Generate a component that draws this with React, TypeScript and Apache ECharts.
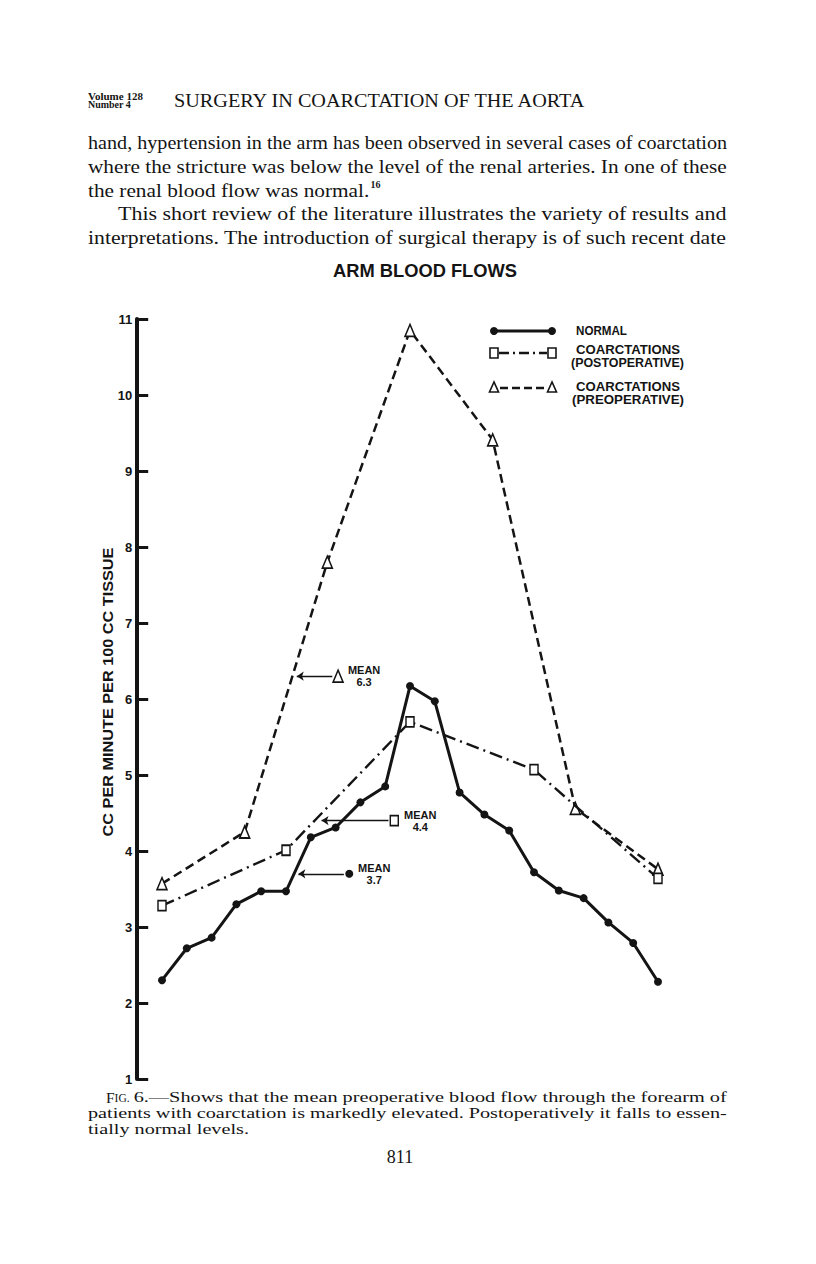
import React, { useEffect, useRef } from "react";
import * as echarts from "echarts";

const INK = "#141414";
const SANS = "Liberation Sans";
const SERIF = "Liberation Serif";

// ---- data (x = position of the reading along the forearm record, hidden axis) ----
const normalX = [0, 3, 6, 9, 12, 15, 18, 21, 24, 27, 30, 33, 36, 39, 42, 45, 48, 51, 54, 57, 60];
const normalValues = [2.3, 2.72, 2.86, 3.3, 3.47, 3.47, 4.18, 4.31, 4.64, 4.85, 6.17, 5.97, 4.77, 4.48, 4.27, 3.72, 3.48, 3.38, 3.06, 2.79, 2.28];
const postX = [0, 15, 30, 45, 60];
const postValues = [3.28, 4.01, 5.7, 5.07, 3.64];
const preX = [0, 10, 20, 30, 40, 50, 60];
const preValues = [3.57, 4.25, 7.8, 10.85, 9.41, 4.56, 3.76];

const yMin = 1;
const yMax = 11;

const seriesNames = ["NORMAL", "COARCTATIONS (POSTOPERATIVE)", "COARCTATIONS (PREOPERATIVE)"];
const meanValues = [3.7, 4.4, 6.3];
const meanMarkerX = [22.65, 28.1, 21.3];
const meanArrowFrom = [22.0, 27.4, 20.6];
const meanArrowTo = [16.5, 19.3, 16.3];

const title = "ARM BLOOD FLOWS";
const yAxisTitle = "CC PER MINUTE PER 100 CC TISSUE";
const headerVol = ["Volume 128", "Number 4"];
const headerTitle = "SURGERY IN COARCTATION OF THE AORTA";
const bodyLines = [
  "hand, hypertension in the arm has been observed in several cases of coarctation",
  "where the stricture was below the level of the renal arteries. In one of these",
  "the renal blood flow was normal.",
  "This short review of the literature illustrates the variety of results and",
  "interpretations. The introduction of surgical therapy is of such recent date",
];
const captionLines = [
  "6.—Shows that the mean preoperative blood flow through the forearm of",
  "patients with coarctation is markedly elevated. Postoperatively it falls to essen-",
  "tially normal levels.",
];
const pageNumber = "811";

export default function App() {
  const ref = useRef<HTMLDivElement>(null);

  useEffect(() => {
    if (!ref.current) return;
    const chart = echarts.init(ref.current, undefined, { renderer: "svg" });

    const cv = document.createElement("canvas").getContext("2d")!;
    const measure = (t: string, size: number, family: string, weight = "normal") => {
      cv.font = `${weight} ${size}px "${family}"`;
      return cv.measureText(t).width;
    };
    const txt = (
      t: string,
      x: number,
      y: number,
      size: number,
      family: string,
      weight = "normal",
      width?: number,
      align = "left",
      extra: any = {}
    ) => {
      const w = measure(t, size, family, weight);
      return {
        type: "text",
        x,
        y,
        silent: true,
        scaleX: width ? width / w : extra.scaleX || 1,
        rotation: extra.rotation || 0,
        style: {
          text: t,
          fontSize: size,
          fontFamily: family,
          fontWeight: weight,
          fill: INK,
          align,
          verticalAlign: "middle",
        },
      };
    };

    const g: any[] = [];
    // header
    g.push(txt(headerVol[0], 88, 96.5, 9.5, SERIF, "bold", 55));
    g.push(txt(headerVol[1], 88, 105, 9.5, SERIF, "bold", 43));
    g.push(txt(headerTitle, 174, 101, 18, SERIF, "normal", 413));

    // body text (justified lines fitted to the column)
    const bodyY = [143, 167, 190.5, 214, 238];
    const bodyX0 = [88, 88, 88, 118, 88];
    const bodyFull = [true, true, false, true, true];
    const BS = 18;
    const scales = bodyLines.map((l, i) => (727 - bodyX0[i]) / measure(l, BS, SERIF));
    const avgScale = (scales[0] + scales[1] + scales[3] + scales[4]) / 4;
    bodyLines.forEach((l, i) => {
      if (bodyFull[i]) g.push(txt(l, bodyX0[i], bodyY[i], BS, SERIF, "normal", 727 - bodyX0[i]));
      else g.push(txt(l, bodyX0[i], bodyY[i], BS, SERIF, "normal", undefined, "left", { scaleX: avgScale }));
    });
    const l3w = measure(bodyLines[2], BS, SERIF) * avgScale;
    g.push(txt("16", 88 + l3w + 1, bodyY[2] - 6, 10, SERIF, "bold"));

    // chart title
    g.push(txt(title, 425, 271, 18, SANS, "bold", 184, "center"));
    // y axis title (rotated)
    g.push(txt(yAxisTitle, 107.5, 692, 14, SANS, "bold", 289, "center", { rotation: Math.PI / 2 }));

    // legend
    const lx1 = 494, lx2 = 552;
    const ly = [331, 353, 388];
    g.push({ type: "line", silent: true, shape: { x1: lx1, y1: ly[0], x2: lx2, y2: ly[0] }, style: { stroke: INK, lineWidth: 3 } });
    g.push({ type: "circle", silent: true, shape: { cx: lx1, cy: ly[0], r: 4 }, style: { fill: INK } });
    g.push({ type: "circle", silent: true, shape: { cx: lx2, cy: ly[0], r: 4 }, style: { fill: INK } });
    g.push({ type: "line", silent: true, shape: { x1: lx1 + 5, y1: ly[1], x2: lx2 - 5, y2: ly[1] }, style: { stroke: INK, lineWidth: 2.4, lineDash: [10, 4, 2, 4] } });
    [lx1, lx2].forEach((x) =>
      g.push({ type: "rect", silent: true, shape: { x: x - 4, y: ly[1] - 5, width: 8, height: 10 }, style: { fill: "#fff", stroke: INK, lineWidth: 1.6 } })
    );
    g.push({ type: "line", silent: true, shape: { x1: lx1 + 6, y1: ly[2], x2: lx2 - 6, y2: ly[2] }, style: { stroke: INK, lineWidth: 2.4, lineDash: [8, 4] } });
    [lx1, lx2].forEach((x) =>
      g.push({
        type: "polygon",
        silent: true,
        shape: { points: [[x, ly[2] - 6], [x - 4.5, ly[2] + 4], [x + 4.5, ly[2] + 4]] },
        style: { fill: "#fff", stroke: INK, lineWidth: 1.6 },
      })
    );
    g.push(txt("NORMAL", 576, 331, 12, SANS, "bold", 51));
    g.push(txt("COARCTATIONS", 576, 350.5, 12, SANS, "bold", 104));
    g.push(txt("(POSTOPERATIVE)", 571, 363.5, 12, SANS, "bold", 113));
    g.push(txt("COARCTATIONS", 576, 387, 12, SANS, "bold", 104));
    g.push(txt("(PREOPERATIVE)", 572, 400, 12, SANS, "bold", 112));

    // caption
    const CS = 15.5;
    const fW = measure("F", CS, SERIF);
    const igW = measure("IG.", 11.5, SERIF);
    g.push(txt("F", 106, 1097, CS, SERIF));
    g.push(txt("IG.", 106 + fW, 1098.2, 11.5, SERIF));
    const c1x = 106 + fW + igW + 4;
    g.push(txt(captionLines[0], c1x, 1097, CS, SERIF, "normal", 727 - c1x));
    g.push(txt(captionLines[1], 88, 1113, CS, SERIF, "normal", 639));
    const cScale = 639 / measure(captionLines[1], CS, SERIF);
    g.push(txt(captionLines[2], 88, 1129, CS, SERIF, "normal", undefined, "left", { scaleX: cScale }));
    g.push(txt(pageNumber, 400, 1157, 18, SERIF, "normal", undefined, "center"));

    const meanLabel = (i: number, dx: number) => ({
      show: true,
      position: "inside",
      offset: [dx, 0],
      formatter: `MEAN\n${meanValues[i]}`,
      color: INK,
      fontFamily: SANS,
      fontWeight: "bold",
      fontSize: 11,
      lineHeight: 12,
      align: "center",
    });
    const meanLine = (i: number) => ({
      silent: true,
      symbol: ["none", "arrow"],
      symbolSize: 7,
      lineStyle: { color: INK, width: 1.3, type: "solid" },
      label: { show: false },
      data: [[{ coord: [meanArrowFrom[i], meanValues[i]] }, { coord: [meanArrowTo[i], meanValues[i]] }]],
    });

    const option: any = {
      animation: false,
      backgroundColor: "#fff",
      grid: { left: 137.2, right: 816 - 682.8, top: 319, bottom: 1264 - 1079, containLabel: false },
      xAxis: { type: "value", min: -3, max: 63, show: false },
      yAxis: {
        type: "value",
        min: yMin,
        max: yMax,
        interval: 1,
        axisLine: { show: true, onZero: false, lineStyle: { color: INK, width: 4 } },
        axisTick: { show: true, inside: true, length: 11, lineStyle: { color: INK, width: 3 } },
        axisLabel: { color: INK, fontFamily: SANS, fontWeight: "bold", fontSize: 13, margin: 5 },
        splitLine: { show: false },
      },
      series: [
        {
          name: seriesNames[2],
          type: "line",
          z: 3,
          clip: false,
          data: preX.map((x, i) => [x, preValues[i]]),
          symbol: "triangle",
          symbolSize: [10, 12],
          itemStyle: { color: "#fff", borderColor: INK, borderWidth: 1.6 },
          lineStyle: { color: INK, width: 2.5, type: [9, 5] },
          markLine: meanLine(2),
          markPoint: {
            silent: true,
            data: [
              {
                coord: [meanMarkerX[2], meanValues[2]],
                symbol: "triangle",
                symbolSize: [10, 12],
                itemStyle: { color: "#fff", borderColor: INK, borderWidth: 1.6 },
                label: meanLabel(2, 26),
              },
            ],
          },
        },
        {
          name: seriesNames[1],
          type: "line",
          z: 4,
          clip: false,
          data: postX.map((x, i) => [x, postValues[i]]),
          symbol: "rect",
          symbolSize: [8, 10],
          itemStyle: { color: "#fff", borderColor: INK, borderWidth: 1.6 },
          lineStyle: { color: INK, width: 2.4, type: [13, 5, 2, 5] },
          markLine: meanLine(1),
          markPoint: {
            silent: true,
            data: [
              {
                coord: [meanMarkerX[1], meanValues[1]],
                symbol: "rect",
                symbolSize: [8, 10],
                itemStyle: { color: "#fff", borderColor: INK, borderWidth: 1.6 },
                label: meanLabel(1, 26),
              },
            ],
          },
        },
        {
          name: seriesNames[0],
          type: "line",
          z: 5,
          clip: false,
          data: normalX.map((x, i) => [x, normalValues[i]]),
          symbol: "circle",
          symbolSize: 8,
          itemStyle: { color: INK },
          lineStyle: { color: INK, width: 3 },
          markLine: meanLine(0),
          markPoint: {
            silent: true,
            data: [
              {
                coord: [meanMarkerX[0], meanValues[0]],
                symbol: "circle",
                symbolSize: 8,
                itemStyle: { color: INK },
                label: meanLabel(0, 25),
              },
            ],
          },
        },
      ],
      graphic: g,
    };

    chart.setOption(option);
    return () => chart.dispose();
  }, []);

  return (
    <div
      ref={ref}
      style={{ position: "absolute", left: 0, top: 0, width: 816, height: 1264, background: "#fff" }}
    />
  );
}
